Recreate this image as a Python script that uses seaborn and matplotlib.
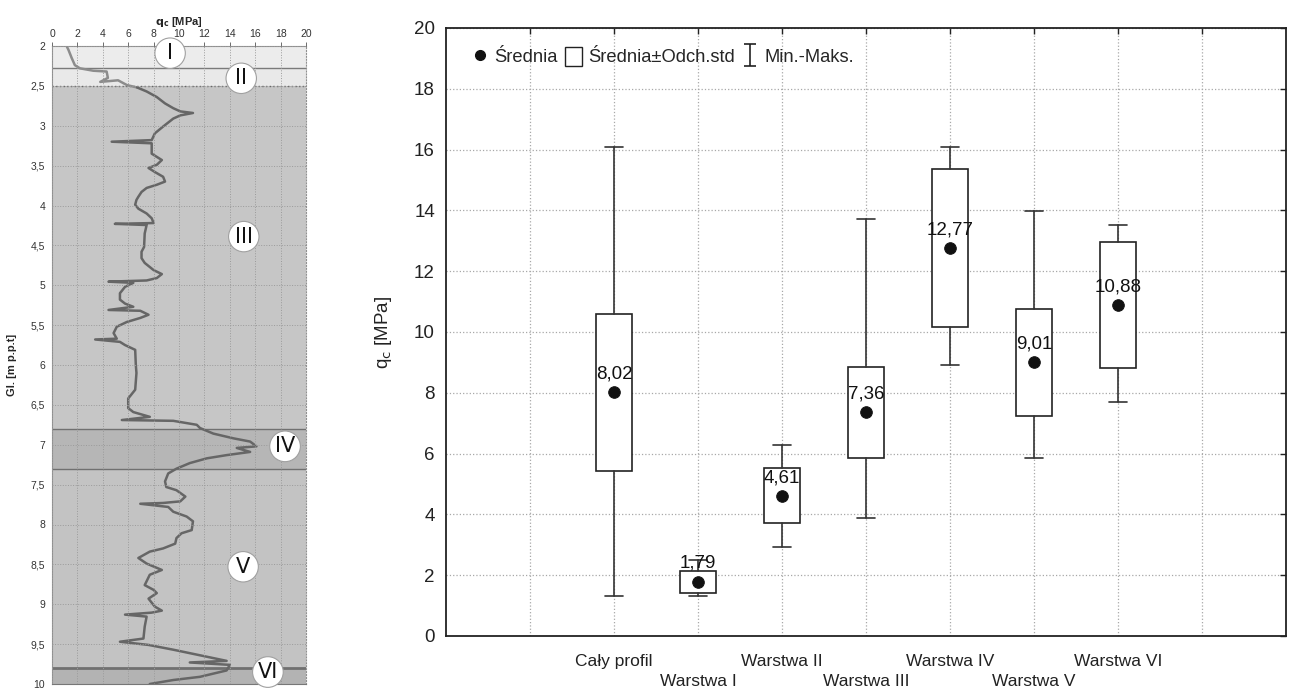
import numpy as np
import pandas as pd
import matplotlib
matplotlib.use("Agg")
import matplotlib.pyplot as plt
import seaborn as sns
from matplotlib.lines import Line2D
from matplotlib.patches import Patch
from matplotlib.path import Path

# ---------------- data ----------------
# CPT profile (depth [m], qc [MPa])
depth = [2.00, 2.05, 2.15, 2.24, 2.28, 2.31, 2.32, 2.40, 2.45, 2.43, 2.49, 2.52, 2.57, 2.64,
         2.72, 2.78, 2.82, 2.84, 2.87, 2.91, 3.01, 3.095, 3.18, 3.20, 3.22, 3.35, 3.39, 3.43,
         3.49, 3.53, 3.58, 3.64, 3.70, 3.74, 3.78, 3.83, 3.89, 3.93, 3.99, 4.04, 4.10, 4.16,
         4.22, 4.23, 4.245, 4.35, 4.52, 4.58, 4.66, 4.72, 4.81, 4.86, 4.91, 4.94, 4.955, 4.97,
         5.02, 5.10, 5.18, 5.23, 5.27, 5.31, 5.32, 5.37, 5.41, 5.46, 5.52, 5.60, 5.67, 5.68,
         5.71, 5.75, 5.81, 6.00, 6.10, 6.31, 6.42, 6.54, 6.59, 6.65, 6.69, 6.70, 6.75, 6.79,
         6.86, 6.92, 6.96, 7.02, 7.04, 7.09, 7.13, 7.17, 7.23, 7.30, 7.36, 7.46, 7.53, 7.57,
         7.65, 7.71, 7.73, 7.74, 7.78, 7.84, 7.90, 7.96, 8.07, 8.11, 8.17, 8.24, 8.30, 8.34,
         8.42, 8.49, 8.57, 8.63, 8.76, 8.82, 8.86, 8.93, 9.03, 9.08, 9.105, 9.13, 9.155, 9.28,
         9.43, 9.47, 9.51, 9.57, 9.64, 9.71, 9.73, 9.76, 9.83, 9.86, 9.91, 9.95, 10.00]
qc = [1.15, 1.30, 1.55, 1.80, 2.20, 3.25, 4.30, 4.40, 3.80, 5.20, 5.90, 6.70, 7.45, 8.25,
      8.90, 9.55, 10.10, 11.10, 10.10, 9.55, 8.75, 8.10, 7.85, 4.70, 7.85, 7.85, 8.25, 8.65,
      8.25, 7.60, 8.10, 8.75, 8.90, 8.25, 7.45, 7.05, 6.80, 6.65, 6.55, 6.80, 7.45, 7.85,
      8.00, 4.95, 7.45, 7.30, 7.25, 7.05, 7.05, 7.30, 8.00, 8.65, 8.25, 7.45, 4.45, 6.40,
      5.75, 5.35, 5.35, 5.75, 6.40, 4.45, 6.95, 7.60, 6.95, 5.90, 5.10, 4.85, 5.10, 3.40,
      5.35, 5.75, 6.55, 6.60, 6.65, 6.55, 6.00, 6.00, 6.40, 7.70, 5.50, 9.55, 11.40, 11.65,
      12.70, 14.30, 15.60, 16.10, 14.55, 15.60, 13.75, 12.20, 10.85, 9.80, 9.15, 8.90, 9.00, 9.80,
      10.50, 10.10, 8.75, 6.95, 9.15, 9.55, 10.60, 11.10, 11.00, 10.20, 9.80, 9.70, 8.75, 7.70,
      6.80, 7.45, 8.65, 7.70, 7.30, 8.00, 8.25, 7.60, 8.10, 8.65, 7.85, 5.75, 7.45, 7.30,
      7.20, 5.35, 7.60, 9.55, 11.65, 13.75, 10.85, 14.00, 13.75, 12.95, 11.65, 9.55, 7.70]

layer_names = ["I", "II", "III", "IV", "V", "VI"]
layer_top = [2.00, 2.27, 2.50, 6.80, 7.30, 9.80]
layer_bottom = [2.27, 2.50, 6.80, 7.30, 9.80, 10.00]
layer_label_qc = [9.3, 14.9, 15.1, 18.35, 15.05, 17.0]
layer_label_depth = [2.09, 2.405, 4.39, 7.02, 8.53, 9.85]

depth_ticks = [2, 2.5, 3, 3.5, 4, 4.5, 5, 5.5, 6, 6.5, 7, 7.5, 8, 8.5, 9, 9.5, 10]
depth_tick_labels = ["2", "2,5", "3", "3,5", "4", "4,5", "5", "5,5", "6", "6,5",
                     "7", "7,5", "8", "8,5", "9", "9,5", "10"]

# statistics (right panel)
categories = ["Cały profil", "Warstwa I", "Warstwa II", "Warstwa III",
              "Warstwa IV", "Warstwa V", "Warstwa VI"]
means = [8.02, 1.79, 4.61, 7.36, 12.77, 9.01, 10.88]
std_dev = [2.58, 0.36, 0.90, 1.49, 2.60, 1.76, 2.07]
minimum = [1.31, 1.32, 2.94, 3.88, 8.93, 5.85, 7.69]
maximum = [16.09, 2.50, 6.28, 13.73, 16.10, 13.97, 13.52]

# ---------------- style ----------------
sns.set_style("white")
plt.rcParams["font.family"] = ["Liberation Sans", "DejaVu Sans"]

fig = plt.figure(figsize=(12.94, 6.9), dpi=100)
axL = fig.add_axes([52 / 1294, (690 - 684) / 690, 254 / 1294, 638 / 690])
axR = fig.add_axes([446 / 1294, (690 - 636) / 690, 840 / 1294, 608 / 690])

# ---------------- left panel ----------------
band_colors = ["#ececec", "#e9e9e9", "#c6c6c6", "#b6b6b6", "#c3c3c3", "#b3b3b3"]
for top, bot, col in zip(layer_top, layer_bottom, band_colors):
    axL.axhspan(top, bot, xmin=0, xmax=1, color=col, zorder=0.2, lw=0)
for d, lw, ls, col in [(2.27, 1.0, "-", "#7a7a7a"), (2.50, 1.0, ":", "#666666"),
                       (6.80, 1.0, "-", "#707070"), (7.30, 1.0, "-", "#707070"),
                       (9.80, 2.0, "-", "#707070")]:
    axL.axhline(d, color=col, lw=lw, ls=ls, zorder=1.5)

prof = pd.DataFrame({"depth": depth, "qc": qc})
upper = prof[prof["depth"] <= 2.52]
lower = prof.iloc[len(upper) - 1:]
sns.lineplot(data=upper, x="qc", y="depth", sort=False, estimator=None,
             color="#8c8c8c", lw=1.8, ax=axL, zorder=2)
sns.lineplot(data=lower, x="qc", y="depth", sort=False, estimator=None,
             color="#666666", lw=1.8, ax=axL, zorder=2)

for name, x, y in zip(layer_names, layer_label_qc, layer_label_depth):
    axL.text(x, y, name, ha="center", va="center", fontsize=15, color="#111111",
             family="DejaVu Sans", zorder=4,
             bbox=dict(boxstyle="circle,pad=0.25", fc="white", ec="#a0a0a0", lw=0.8))

axL.set_xlim(0, 20)
axL.set_ylim(10, 2)
axL.xaxis.tick_top()
axL.xaxis.set_label_position("top")
axL.set_xticks(np.arange(0, 21, 2))
axL.set_yticks(depth_ticks)
axL.set_yticklabels(depth_tick_labels)
axL.tick_params(axis="both", labelsize=7.5, colors="#555555", length=3, width=0.6,
                labelcolor="#333333", pad=2)
axL.set_xlabel(r"$\mathbf{q_c}$ [MPa]", fontsize=8, fontweight="bold", labelpad=3)
axL.set_ylabel("Gl. [m p.p.t]", fontsize=8, fontweight="bold", labelpad=10)
axL.grid(True, ls=":", color="#9a9a9a", lw=0.7)
axL.set_axisbelow(False)
for s in axL.spines.values():
    s.set_color("#909090")
    s.set_linewidth(0.8)
axL.spines["right"].set_linestyle(":")
axL.spines["bottom"].set_color("#777777")

# ---------------- right panel ----------------
positions = np.arange(2, 2 + len(categories))
stats = []
for cat, m, s, lo, hi in zip(categories, means, std_dev, minimum, maximum):
    stats.append(dict(label=cat, med=m, q1=m - s, q3=m + s, whislo=lo, whishi=hi, fliers=[]))

axR.bxp(stats, positions=positions, widths=0.42, capwidths=0.22, showfliers=False,
        patch_artist=True,
        boxprops=dict(facecolor="white", edgecolor="#222222", linewidth=1.2),
        whiskerprops=dict(color="#333333", linewidth=1.2),
        capprops=dict(color="#333333", linewidth=1.2),
        medianprops=dict(linewidth=0),
        manage_ticks=False, zorder=3)

sns.scatterplot(x=positions, y=means, color="#111111", s=70, edgecolor="#111111",
                ax=axR, zorder=4, legend=False)
for x, m in zip(positions, means):
    axR.text(x, m + 0.6, f"{m:.2f}".replace(".", ","), ha="center", va="center",
             fontsize=13.5, color="#111111", zorder=5)

axR.set_xlim(0, 10)
axR.set_ylim(0, 20)
axR.set_yticks(np.arange(0, 21, 2))
xt = list(range(1, 10))
xl = [""] + [c if i % 2 == 0 else "\n" + c for i, c in enumerate(categories)] + [""]
axR.set_xticks(xt)
axR.set_xticklabels(xl, linespacing=1.4)
axR.tick_params(axis="x", labelsize=12.5, pad=13)
axR.tick_params(axis="y", labelsize=13.5, pad=8)
axR.tick_params(direction="in", top=True, right=True, length=4, width=1.0,
                colors="#222222")
axR.grid(True, ls=":", color="#a8a8a8", lw=0.9)
axR.set_axisbelow(True)
for s in axR.spines.values():
    s.set_color("#222222")
    s.set_linewidth(1.3)
axR.set_ylabel(r"q$_\mathrm{c}$ [MPa]", fontsize=13.5, labelpad=14, color="#222222")

ibeam = Path([(-0.5, 1), (0.5, 1), (0, 1), (0, -1), (-0.5, -1), (0.5, -1)],
             [Path.MOVETO, Path.LINETO, Path.MOVETO, Path.LINETO, Path.MOVETO, Path.LINETO])
handles = [Line2D([], [], marker="o", ls="", color="#111111", markersize=7),
           Patch(facecolor="white", edgecolor="#222222", linewidth=1.0),
           Line2D([], [], marker=ibeam, ls="", color="#222222", markersize=16,
                  markeredgewidth=1.2, markerfacecolor="none")]
axR.legend(handles, ["Średnia", "Średnia±Odch.std", "Min.-Maks."], ncol=3,
           loc="upper left", bbox_to_anchor=(0.015, 0.99), frameon=False,
           fontsize=13.2, handlelength=0.9, handleheight=1.2, handletextpad=0.35,
           columnspacing=0.4, borderaxespad=0.3)

fig.savefig("out.png", dpi=100)
